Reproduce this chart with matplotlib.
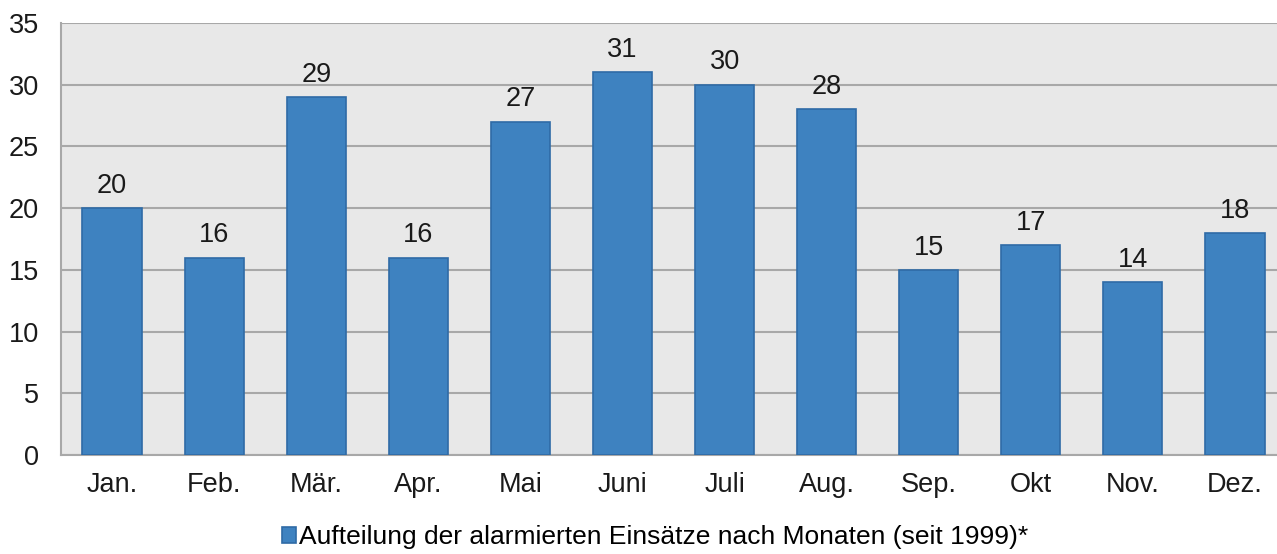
import numpy as np
import matplotlib.pyplot as plt

plt.rcParams['font.family'] = ['Liberation Sans', 'DejaVu Sans']

months = ['Jan.', 'Feb.', 'Mär.', 'Apr.', 'Mai', 'Juni', 'Juli', 'Aug.',
          'Sep.', 'Okt', 'Nov.', 'Dez.']
counts = [20, 16, 29, 16, 27, 31, 30, 28, 15, 17, 14, 18]
legendLabel = 'Aufteilung der alarmierten Einsätze nach Monaten (seit 1999)*'

fig = plt.figure(figsize=(12.77, 5.54), dpi=100)
ax = fig.add_axes([61 / 1277, 99 / 554, 1 - 61 / 1277, 432 / 554])
ax.set_facecolor('#e8e8e8')

x = np.arange(len(months))
bars = ax.bar(x, counts, width=0.58, color='#3e82c0', edgecolor='#2f6ba6',
              linewidth=1.2, zorder=3, label=legendLabel)

for xi, v in zip(x, counts):
    ax.text(xi, v + 0.75, str(v), ha='center', va='bottom', fontsize=19.5,
            color='#1a1a1a', zorder=4)

ax.set_ylim(0, 35)
ax.set_yticks(range(0, 36, 5))
ax.set_xlim(-0.5, 11.5 - 9 / 102)
ax.set_xticks(x)
ax.set_xticklabels(months)
ax.yaxis.grid(True, color='#a8a8a8', linewidth=1.5, zorder=1)
ax.set_axisbelow(True)

for side in ['top', 'right']:
    ax.spines[side].set_visible(False)
for side in ['left', 'bottom']:
    ax.spines[side].set_color('#a8a8a8')
    ax.spines[side].set_linewidth(1.5)

ax.tick_params(axis='both', length=0, labelsize=19.5, colors='#1a1a1a')
ax.tick_params(axis='y', pad=16)
ax.tick_params(axis='x', pad=12)

fig.legend(handles=[bars], labels=[legendLabel], loc='center',
           bbox_to_anchor=(655 / 1277, 1 - 537 / 554), frameon=False,
           fontsize=19, handlelength=0.55, handleheight=0.55,
           handletextpad=0.1, borderpad=0)

fig.savefig('out.png', dpi=100)
